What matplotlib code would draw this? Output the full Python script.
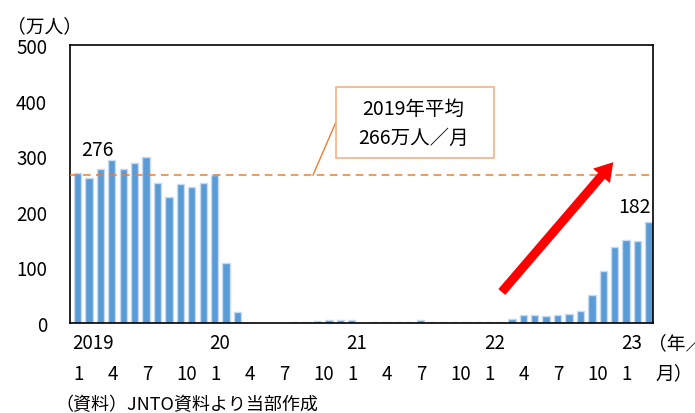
import matplotlib
matplotlib.use("Agg")
import matplotlib.pyplot as plt
from matplotlib.patches import Rectangle, FancyArrowPatch, ArrowStyle

plt.rcParams['font.family'] = ['Noto Sans CJK JP', 'DejaVu Sans']

# monthly visitors (10k persons), Jan 2019 - Mar 2023
visitors = [
    268.9, 260.4, 276.1, 292.7, 277.3, 288.0, 299.1, 252.0, 227.3, 249.7, 244.1, 252.6,  # 2019
    266.1, 108.5, 19.4, 0.3, 0.2, 0.3, 0.4, 0.9, 1.4, 2.8, 5.7, 5.9,                   # 2020
    4.6, 0.7, 1.2, 1.1, 1.0, 1.0, 5.2, 2.6, 1.8, 2.2, 2.1, 1.2,                         # 2021
    1.7, 1.7, 6.6, 13.9, 14.7, 12.0, 14.5, 16.9, 20.7, 49.9, 93.4, 137.0,               # 2022
    149.7, 147.5, 181.8,                                                                 # 2023
]
month_labels = ["1", "4", "7", "10"] * 4 + ["1"]
month_idx = [0, 3, 6, 9, 12, 15, 18, 21, 24, 27, 30, 33, 36, 39, 42, 45, 48]
year_labels = ["2019", "20", "21", "22", "23"]
year_idx = [0, 12, 24, 36, 48]
avg_2019 = 266
yticks = [0, 100, 200, 300, 400, 500]

fig = plt.figure(figsize=(6.95, 4.14), dpi=100)
ax = fig.add_axes([70 / 695, 1 - 324 / 414, 583 / 695, 278 / 414])

x = list(range(len(visitors)))
ax.bar(x, visitors, width=0.64, color="#5B9BD5", edgecolor="#c6dbf1", linewidth=1.0, zorder=2)

ax.axhline(avg_2019, color="#ED7D31", lw=1.1, linestyle=(0, (5, 3.5)), zorder=3)

ax.set_xlim(-0.66, 50.35)
ax.set_ylim(0, 500)
ax.set_yticks(yticks)
ax.set_yticklabels([str(t) for t in yticks], fontsize=13.5)
ax.tick_params(axis="y", length=0, pad=16.5)
ax.set_xticks([])
for s in ax.spines.values():
    s.set_color("black")
    s.set_linewidth(1.2)

# two-row x labels
tr = ax.get_xaxis_transform()
for i, lab in zip(year_idx, year_labels):
    ax.text(i - 0.45, -0.07, lab, transform=tr, ha="left", va="center", fontsize=13.5)
for i, lab in zip(month_idx, month_labels):
    ax.text(i - 0.38, -0.18, lab, transform=tr, ha="left", va="center", fontsize=13.5)
ax.text(49.9, -0.07, "（年／", transform=tr, ha="left", va="center", fontsize=13.5, clip_on=False)
ax.text(50.6, -0.18, "月）", transform=tr, ha="left", va="center", fontsize=13.5, clip_on=False)

# value labels
ax.text(1.75, 312, f"{visitors[2]:.0f}", ha="center", va="center", fontsize=14)
ax.text(48.7, 209, f"{visitors[-1]:.0f}", ha="center", va="center", fontsize=14)

# average callout box
ax.add_patch(Rectangle((22.6, 296), 13.8, 128, facecolor="white",
                       edgecolor="#F4B183", lw=1.2, zorder=4))
ax.plot([22.6, 20.6], [361, 266], color="#ED7D31", lw=1, zorder=3)
ax.text(29.4, 386, "2019年平均", ha="center", va="center", fontsize=14, zorder=5)
ax.text(29.4, 333, f"{avg_2019}万人／月", ha="center", va="center", fontsize=14, zorder=5)

# recovery arrow
arrow = FancyArrowPatch((36.96, 52), (47.03, 293),
                        arrowstyle=ArrowStyle.Simple(head_length=13, head_width=16, tail_width=6.5),
                        mutation_scale=1, color="red", lw=0, zorder=6)
ax.add_patch(arrow)

fig.text(7 / 695, 1 - 27 / 414, "（万人）", ha="left", va="center", fontsize=13.5)
fig.text(55 / 695, 1 - 405 / 414, "（資料）JNTO資料より当部作成", ha="left", va="center", fontsize=13)

fig.savefig("out.png", dpi=100)
